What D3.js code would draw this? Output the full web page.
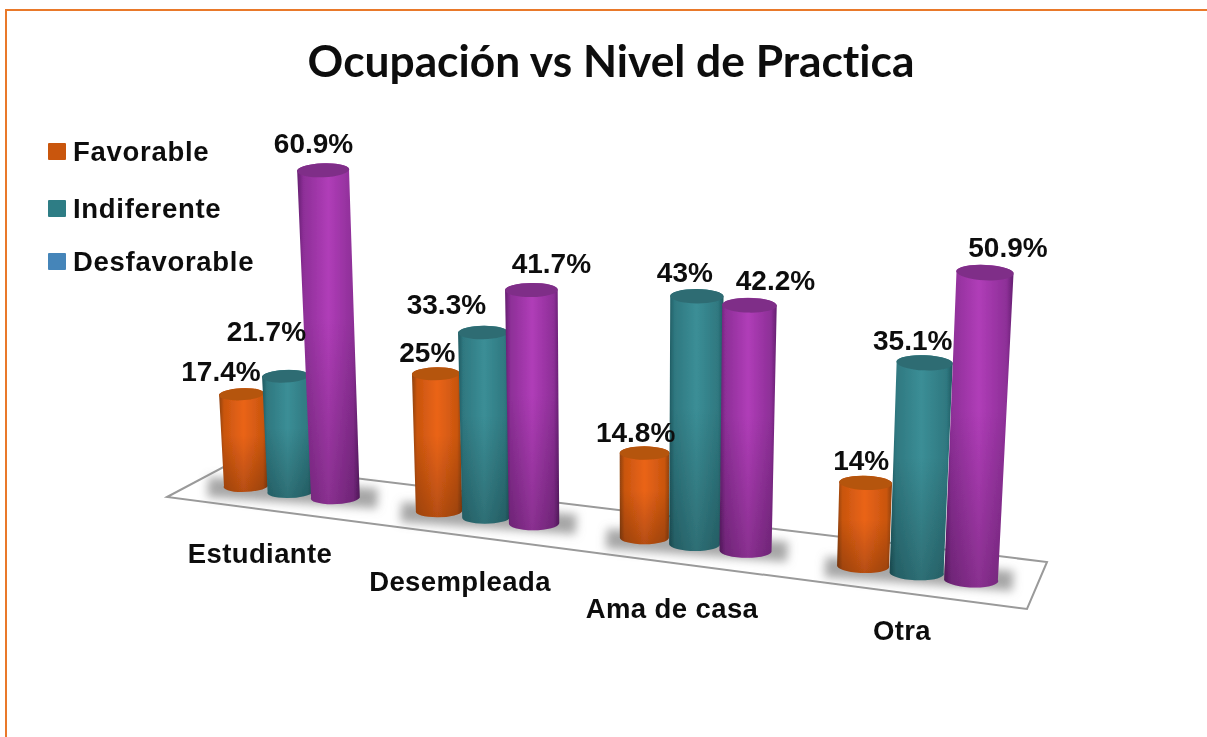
<!DOCTYPE html>
<html>
<head>
<meta charset="utf-8">
<script src="https://cdn.jsdelivr.net/npm/d3@7"></script>
<style>
html,body{margin:0;padding:0;background:#fff;overflow:hidden}
svg{display:block}
text{font-family:"Liberation Sans",Arial,sans-serif;font-weight:700;fill:#111}
</style>
</head>
<body>
<svg id="chart" width="1207" height="737"></svg>
<script>
const titleText = "Ocupación vs Nivel de Practica";
const categories = ["Estudiante", "Desempleada", "Ama de casa", "Otra"];
const seriesNames = ["Favorable", "Indiferente", "Desfavorable"];
const favorable = [17.4, 25, 14.8, 14];
const indiferente = [21.7, 33.3, 43, 35.1];
const desfavorable = [60.9, 41.7, 42.2, 50.9];
const seriesValues = [favorable, indiferente, desfavorable];

// Layout only, no data below
const W = 1207, H = 737;
const slotsPerCategory = 4.25;
const lastSlot = (categories.length - 1) * slotsPerCategory + seriesNames.length - 1;
const kFloor = 0.007, kHeight = 0.0099;
const depth = p => p / (1 - kFloor * p);
const baseX = d3.scaleLinear().domain([0, depth(lastSlot)]).range([246, 971]);
const baseY = d3.scaleLinear().domain([0, depth(lastSlot)]).range([486, 580]);
const heightScale = d3.scaleLinear().domain([0, 100]).range([0, 527]);
const leanPerPx = 0.000131, leanCentre = 623;
const baseWidths = [44, 45, 48], widthGrowth = [0.012, 0.012, 0.0073];

const labelNudge = [
  [[-20.5,-13],[-19,-35],[-9.5,-17.5]],
  [[-8.5,-12],[-36.5,-19],[20,-16.5]],
  [[-9,-11],[-12,-14],[26,-15]],
  [[-4.5,-13],[-12,-13],[23,-15.5]]
];
const categoryLabelPos = [[260,563],[460,591],[672,618],[902,640]];
const legendRows = [161,218,271];

const colours = [
  {edge:"#8f4212",mid:"#c9550f",light:"#ea6417",cap:"#b5540f"},
  {edge:"#205a61",mid:"#2f7880",light:"#3b8e96",cap:"#2f6c73"},
  {edge:"#641f70",mid:"#8d2f97",light:"#b03db8",cap:"#7f2f88"}
];
const legendColours = ["#c9560f","#2f7d85","#4585b9"];

const svg = d3.select("#chart");
const defs = svg.append("defs");
defs.append("filter").attr("id","soft").attr("x","-5%").attr("y","-5%").attr("width","110%").attr("height","110%")
  .append("feGaussianBlur").attr("stdDeviation",0.7);
defs.append("filter").attr("id","shadow").attr("x","-30%").attr("y","-200%").attr("width","160%").attr("height","500%")
  .append("feGaussianBlur").attr("stdDeviation",5);
colours.forEach((c,i)=>{
  const g = defs.append("linearGradient").attr("id","cyl"+i).attr("x1",0).attr("x2",1).attr("y1",0).attr("y2",0);
  [[0,c.edge],[0.1,c.mid],[0.5,c.light],[0.9,c.mid],[1,c.edge]].forEach(s=>g.append("stop").attr("offset",s[0]).attr("stop-color",s[1]));
});
const dk = defs.append("linearGradient").attr("id","shade").attr("x1",0).attr("x2",0).attr("y1",0).attr("y2",1);
[[0,0],[0.45,0],[1,0.22]].forEach(s=>dk.append("stop").attr("offset",s[0]).attr("stop-color","#000").attr("stop-opacity",s[1]));

const root = svg.append("g").attr("filter","url(#soft)");

// frame
root.append("path").attr("d",d3.line()([[6,737],[6,10],[1207,10]])).attr("fill","none").attr("stroke","#e9792c").attr("stroke-width",2);

// title
root.append("text").text(titleText).attr("x",611).attr("y",77).attr("text-anchor","middle")
  .style("font-family","Lato, 'Open Sans', sans-serif").style("font-size","44.3px").style("font-weight","700")
  .style("font-variant-ligatures","none").style("fill","#0d0d0d");

// floor
const floorX = {back:d3.scaleLinear().range([231,1047]),front:d3.scaleLinear().range([167,1027])};
const floorY = {back:d3.scaleLinear().range([463,562]),front:d3.scaleLinear().range([497,609])};
const floorPts = [["back",0],["back",1],["front",1],["front",0]].map(([e,u])=>[floorX[e](u),floorY[e](u)]);
root.append("path").attr("d",d3.line().curve(d3.curveLinearClosed)(floorPts))
  .attr("fill","#fff").attr("stroke","#9a9a9a").attr("stroke-width",2);

// shadows
categories.forEach((c,ci)=>{
  const p0 = ci*slotsPerCategory, p1 = p0 + seriesNames.length - 1;
  const a=[baseX(depth(p0))-38,baseY(depth(p0))+1], b=[baseX(depth(p1))+42,baseY(depth(p1))+1];
  root.append("path").attr("d",d3.line()([a,b])).attr("stroke","#808080").attr("stroke-width",20)
    .attr("stroke-opacity",0.7).attr("fill","none").attr("filter","url(#shadow)");
});

// cylinders
const marks = [];
categories.forEach((cat,ci)=>{
  seriesValues.forEach((vals,si)=>{
    const v = vals[ci], p = ci*slotsPerCategory + si;
    const cx = baseX(depth(p)), cy = baseY(depth(p));
    const h = heightScale(v)*(1+kHeight*p);
    const lean = (cx-leanCentre)*leanPerPx;
    const tx = cx + lean*h, ty = cy - h;
    const wb = baseWidths[si]/(1-widthGrowth[si]*p);
    const wt = wb*(1+h*0.0002);
    const rb = wb/2, rt = wt/2, ryb = rb*0.27, ryt = rt*0.27;
    const rot = Math.atan(lean)*180/Math.PI;
    const g = root.append("g");
    const body = `M${tx-rt},${ty}L${cx-rb},${cy}A${rb},${ryb} ${rot} 0 0 ${cx+rb},${cy}L${tx+rt},${ty}A${rt},${ryt} ${rot} 0 0 ${tx-rt},${ty}Z`;
    g.append("path").attr("d",body).attr("fill",`url(#cyl${si})`);
    g.append("path").attr("d",body).attr("fill","url(#shade)");
    g.append("ellipse").attr("cx",tx).attr("cy",ty).attr("rx",rt).attr("ry",ryt)
      .attr("transform",`rotate(${rot} ${tx} ${ty})`).attr("fill",colours[si].cap);
    marks.push({ci,si,v,tx,ty});
  });
});

// value labels
marks.forEach(m=>{
  const n = labelNudge[m.ci][m.si];
  root.append("text").text(m.v+"%").attr("x",m.tx+n[0]).attr("y",m.ty+n[1]).attr("text-anchor","middle")
    .style("font-size","28px");
});

// category labels
categories.forEach((c,i)=>{
  root.append("text").text(c).attr("x",categoryLabelPos[i][0]).attr("y",categoryLabelPos[i][1])
    .attr("text-anchor","middle").style("font-size","27.5px").style("letter-spacing","0.4px");
});

// legend
seriesNames.forEach((s,i)=>{
  root.append("rect").attr("x",48).attr("y",legendRows[i]-18).attr("width",18).attr("height",17).attr("rx",1).attr("fill",legendColours[i]);
  root.append("text").text(s).attr("x",73).attr("y",legendRows[i]).style("font-size","27.5px").style("letter-spacing","0.7px");
});
</script>
</body>
</html>
